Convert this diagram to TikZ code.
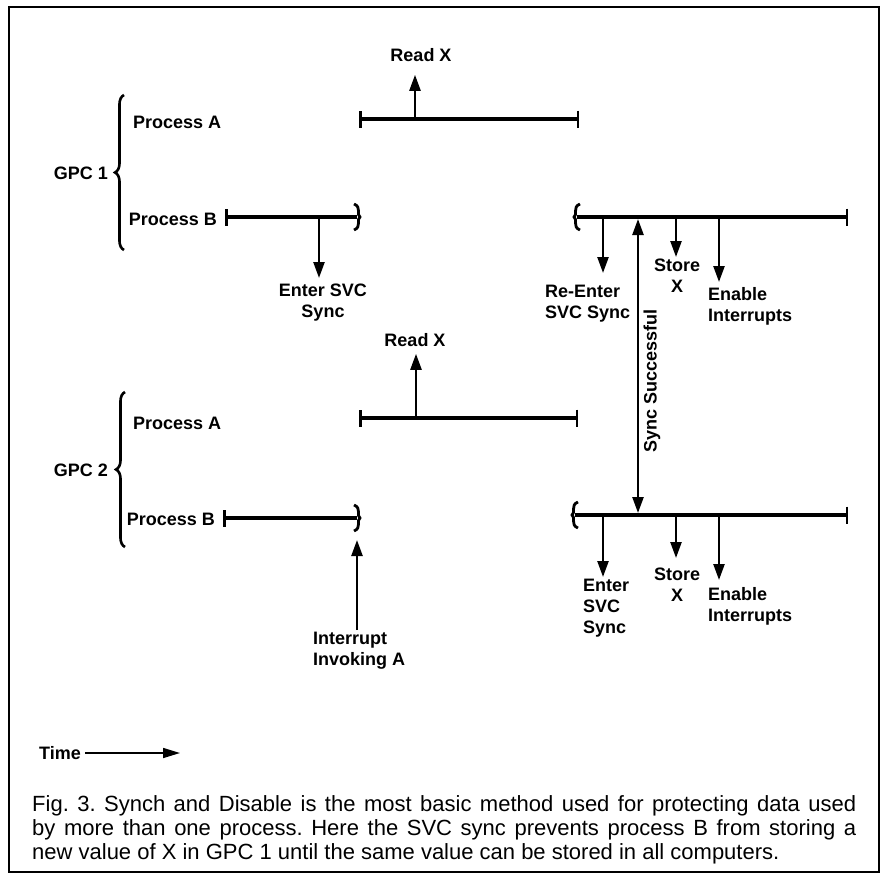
\documentclass[tikz,border=0pt]{standalone}
\usepackage{fontspec}
\setmainfont{Liberation Sans}
\newfontfamily\lblfont{Liberation Sans}
\usepackage{tikz}
\usetikzlibrary{
	arrows.meta,
	decorations.pathreplacing,
	positioning
}
\tikzset{
	barend/.tip={Bar[width=17pt,line width=2.5pt]},
	wavy/.pic={\draw[line width=2.8pt] (-3,-13) .. controls (5,-10) and (-1,-2) .. (3,0) .. controls (-1,2) and (5,10) .. (-3,13);}
}

\begin{document}
\begin{tikzpicture}[x=1pt, y=-1pt,
		lbl/.style={inner sep=0pt, font=\lblfont\bfseries\fontsize{18}{21}\selectfont},
		procline/.style={line width=4.6pt},
		arr/.style={line width=2.4pt, -{Triangle[length=16pt,width=11pt]}},
		curly/.style={decorate, decoration={brace, amplitude=9pt}, line width=2.6pt}]
		\useasboundingbox (0,0) rectangle (883,875);
		\draw[line width=1.5pt] (9,7) rectangle (879,872);
		% GPC 1
		\draw[curly] (124,250) -- (124,95);
		\node[lbl, anchor=east] (gpc1) at (108,173) {GPC 1};
		\node[lbl, anchor=west] (pa1) at (133,122) {Process A};
		\node[lbl, anchor=east] (pb1) at (217,219) {Process B};
		\coordinate (a1s) at (359,119);
		\coordinate (a1e) at (579,119);
		\coordinate (b1s) at (225,217);
		\coordinate (b1e) at (357,217);
		\coordinate (c1s) at (577,217);
		\coordinate (c1e) at (848,217);
		\draw[procline, barend-barend] (a1s) -- (a1e);
		\draw[procline, barend-] (b1s) -- (b1e);
		\pic at (b1e) {wavy};
		\draw[procline, -barend] (c1s) -- (c1e);
		\pic[xscale=-1] at (c1s) {wavy};
		\coordinate (rd1) at (415,119);
		\coordinate (en1) at (319,217);
		\coordinate (ren1) at (603,217);
		\coordinate (st1) at (676,217);
		\coordinate (ei1) at (719,217);
		\node[lbl] (rx1) at (421,55) {Read X};
		\node[lbl, anchor=north, align=center] (es1) at (323,284) {Enter SVC\\Sync};
		\node[lbl, anchor=north west, align=left] (res1) at (545,285) {Re-Enter\\SVC Sync};
		\node[lbl, anchor=north, align=center] (sx1) at (677,259) {Store\\X};
		\node[lbl, anchor=north west, align=left] (eis1) at (708,287) {Enable\\Interrupts};
		\draw[arr, shorten >=13pt] (rd1) -- (rd1 |- rx1.south);
		\draw[arr, shorten >=6pt] (en1) -- (en1 |- es1.north);
		\draw[arr, shorten >=12pt] (ren1) -- (ren1 |- res1.north);
		\draw[arr, shorten >=2pt] (st1) -- (st1 |- sx1.north);
		\draw[arr, shorten >=5pt] (ei1) -- (ei1 |- eis1.north);
		% GPC 2
		\draw[curly] (125,547) -- (125,392);
		\node[lbl, anchor=east] (gpc2) at (108,470) {GPC 2};
		\node[lbl, anchor=west] (pa2) at (133,423) {Process A};
		\node[lbl, anchor=east] (pb2) at (215,519) {Process B};
		\coordinate (a2s) at (359,418);
		\coordinate (a2e) at (578,418);
		\coordinate (b2s) at (223,518);
		\coordinate (b2e) at (357,518);
		\coordinate (c2s) at (575,515);
		\coordinate (c2e) at (848,515);
		\draw[procline, barend-barend] (a2s) -- (a2e);
		\draw[procline, barend-] (b2s) -- (b2e);
		\pic at (b2e) {wavy};
		\draw[procline, -barend] (c2s) -- (c2e);
		\pic[xscale=-1] at (c2s) {wavy};
		\coordinate (rd2) at (416,418);
		\coordinate (en2) at (603,515);
		\coordinate (st2) at (676,515);
		\coordinate (ei2) at (719,515);
		\node[lbl] (rx2) at (415,340) {Read X};
		\node[lbl, anchor=north west, align=left] (ia2) at (313,632) {Interrupt\\Invoking A};
		\node[lbl, anchor=north west, align=left] (es2) at (583,579) {Enter\\SVC\\Sync};
		\node[lbl, anchor=north, align=center] (sx2) at (677,568) {Store\\X};
		\node[lbl, anchor=north west, align=left] (eis2) at (708,587) {Enable\\Interrupts};
		\draw[arr, shorten >=7pt] (rd2) -- (rd2 |- rx2.south);
		\draw[arr, shorten <=2pt, shorten >=22pt] (ia2.north -| b2e) -- (b2e);
		\draw[arr, shorten >=2pt] (en2) -- (en2 |- es2.north);
		\draw[arr, shorten >=10pt] (st2) -- (st2 |- sx2.north);
		\draw[arr, shorten >=7pt] (ei2) -- (ei2 |- eis2.north);
		% sync between the computers
		\coordinate (sy1) at (638,217);
		\coordinate (sy2) at (638,515);
		\draw[line width=2.4pt, {Triangle[length=16pt,width=11pt]}-{Triangle[length=16pt,width=11pt]}, shorten <=2pt, shorten >=2pt] (sy1) -- (sy2);
		\node[lbl, rotate=90] (syl) at (652,381) {Sync Successful};
		% time axis
		\node[lbl, anchor=west] (time) at (39,753) {Time};
		\coordinate (tend) at (180,753);
		\draw[line width=1.6pt, -{Triangle[length=17pt,width=10pt]}, shorten <=4pt] (time.east) -- (tend);
		\node[anchor=north west, inner sep=0pt, align=left, font=\frenchspacing\fontsize{22}{24}\selectfont] (cap) at (32,795)
		{\makebox[824pt][s]{Fig. 3. Synch and Disable is the most basic method used for protecting data used}\\
			\makebox[824pt][s]{by more than one process. Here the SVC sync prevents process B from storing a}\\
			\makebox[824pt][l]{new value of X in GPC 1 until the same value can be stored in all computers.}};
	\end{tikzpicture}
\end{document}
